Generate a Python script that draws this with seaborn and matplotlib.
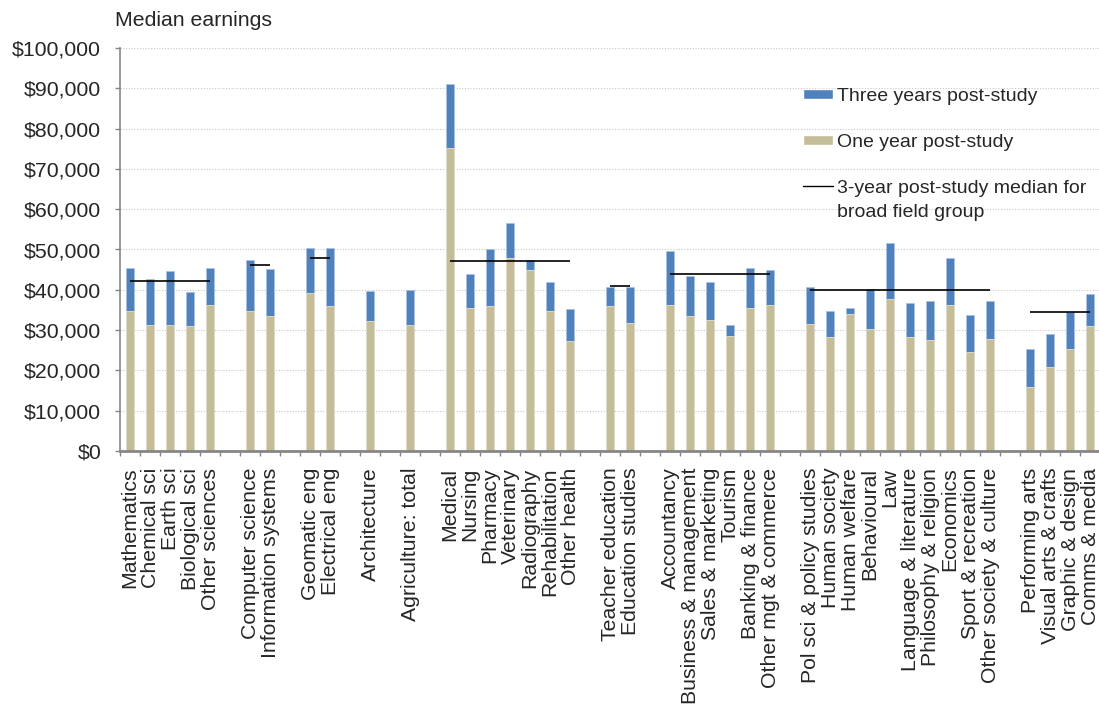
import numpy as np
import pandas as pd
import seaborn as sns
import matplotlib.pyplot as plt
from matplotlib.lines import Line2D
from matplotlib.patches import Patch
from matplotlib.legend_handler import HandlerBase
from matplotlib.ticker import FuncFormatter

# field names, grouped by broad field (gaps go between groups)
fields = [
    "Mathematics", "Chemical sci", "Earth sci", "Biological sci", "Other sciences",
    "Computer science", "Information systems",
    "Geomatic eng", "Electrical eng",
    "Architecture",
    "Agriculture: total",
    "Medical", "Nursing", "Pharmacy", "Veterinary", "Radiography", "Rehabilitation", "Other health",
    "Teacher education", "Education studies",
    "Accountancy", "Business & management", "Sales & marketing", "Tourism",
    "Banking & finance", "Other mgt & commerce",
    "Pol sci & policy studies", "Human society", "Human welfare", "Behavioural", "Law",
    "Language & literature", "Philosophy & religion", "Economics", "Sport & recreation",
    "Other society & culture",
    "Performing arts", "Visual arts & crafts", "Graphic & design", "Comms & media",
]
group_sizes = [5, 2, 2, 1, 1, 7, 2, 6, 10, 4]

one_year = [
    34800, 31300, 31300, 31000, 36200,
    34800, 33500,
    39100, 36000,
    32300,
    31300,
    75100, 35400, 36000, 47900, 44900, 34700, 27300,
    36000, 31800,
    36200, 33500, 32400, 28500, 35400, 36200,
    31500, 28200, 34000, 30300, 37600, 28400, 27600, 36200, 24600, 27900,
    15900, 20800, 25400, 31000,
]
three_year = [
    45500, 42700, 44700, 39400, 45500,
    47400, 45200,
    50300, 50300,
    39600,
    39900,
    91000, 44000, 50200, 56600, 47400, 41900, 35200,
    40700, 40700,
    49600, 43400, 41900, 31200, 45400, 44800,
    40700, 34800, 35400, 40100, 51600, 36800, 37100, 48000, 33700, 37100,
    25400, 29000, 34400, 39000,
]
# 3-year median for the broad field group (None = no line drawn)
group_medians = [42300, 46200, 47900, None, None, 47100, 40900, 44000, 40000, 34500]

BLUE = "#4F81BD"
TAN = "#C4BD97"
GREY = "#868686"
FS = 15.3
LEG_FS = 14


class FirstLineHandler(HandlerBase):
    """Legend line drawn level with the first line of a two-line label."""
    def create_artists(self, legend, orig_handle, xdescent, ydescent,
                       width, height, fontsize, trans):
        y = height / 2 - ydescent + fontsize * 0.75
        line = Line2D([-xdescent, -xdescent + width], [y, y],
                      color=orig_handle.get_color(), lw=orig_handle.get_linewidth(),
                      transform=trans)
        return [line]


# category order with empty slots between the groups
order = []
spans = []
k = 0
for g, n in enumerate(group_sizes):
    start = len(order)
    order += fields[k:k + n]
    spans.append((start, len(order) - 1))
    k += n
    if g < len(group_sizes) - 1:
        order.append(f"_gap{g}")

df = pd.DataFrame({"field": fields, "one": one_year, "three": three_year})

sns.set_style("white")
plt.rcParams["font.family"] = ["Liberation Sans", "DejaVu Sans"]

fig = plt.figure(figsize=(10.99, 7.04), dpi=100)
ax = fig.add_axes([120 / 1099, 1 - 451 / 704, 980 / 1099, 403 / 704])

sns.barplot(data=df, x="field", y="three", order=order, color=BLUE, saturation=1,
            width=0.4, errorbar=None, edgecolor="#A9C2E0", linewidth=0.6, ax=ax)
sns.barplot(data=df, x="field", y="one", order=order, color=TAN, saturation=1,
            width=0.4, errorbar=None, edgecolor="#E4E0CF", linewidth=0.6, ax=ax)

for (s, e), med in zip(spans, group_medians):
    if med is not None:
        ax.hlines(med, s, e, color="black", lw=1.2, zorder=5)

ax.set_xlim(-0.5, len(order) - 0.5)
ax.set_ylim(0, 100000)
ax.set_yticks(range(0, 100001, 10000))
ax.yaxis.set_major_formatter(FuncFormatter(lambda v, p: f"${v:,.0f}"))
ax.yaxis.grid(True, linestyle=(0, (1, 1.5)), color="#C8C8C8", lw=0.8)
ax.set_axisbelow(True)

ax.set_xticks(range(len(order)))
ax.set_xticklabels(["" if o.startswith("_gap") else o for o in order],
                   rotation=90, va="top", ha="center")
ax.set_xticks(np.arange(-0.5, len(order)), minor=True)
ax.tick_params(axis="x", which="major", length=0, pad=12, labelsize=FS)
ax.tick_params(axis="x", which="minor", length=3.6, width=1, color=GREY, bottom=True)
ax.tick_params(axis="y", length=3.6, width=1, color=GREY, left=True, labelsize=FS, pad=10)
ax.set_xlabel("")
ax.set_ylabel("")

for side in ["top", "right"]:
    ax.spines[side].set_visible(False)
ax.spines["left"].set_color(GREY)
ax.spines["left"].set_linewidth(1.2)
ax.spines["bottom"].set_color(GREY)
ax.spines["bottom"].set_linewidth(2)

fig.text(115 / 1099, 1 - 20 / 704, "Median earnings", fontsize=FS, va="center", ha="left")

median_handle = Line2D([], [], color="black", lw=1)
handles = [Patch(facecolor=BLUE), Patch(facecolor=TAN), median_handle]
labels = [
    "Three years post-study",
    "One year post-study",
    "3-year post-study median for\nbroad field group",
]
leg = fig.legend(handles, labels, loc="upper left", bbox_to_anchor=(803 / 1099, 1 - 88 / 704),
                 frameon=False, fontsize=LEG_FS, handlelength=1.55, handleheight=0.4,
                 handletextpad=0.2, labelspacing=1.5, borderaxespad=0, borderpad=0,
                 handler_map={median_handle: FirstLineHandler()})
for t in leg.get_texts():
    t.set_linespacing(1.5)

plt.savefig("out.png", dpi=100)
plt.close()
